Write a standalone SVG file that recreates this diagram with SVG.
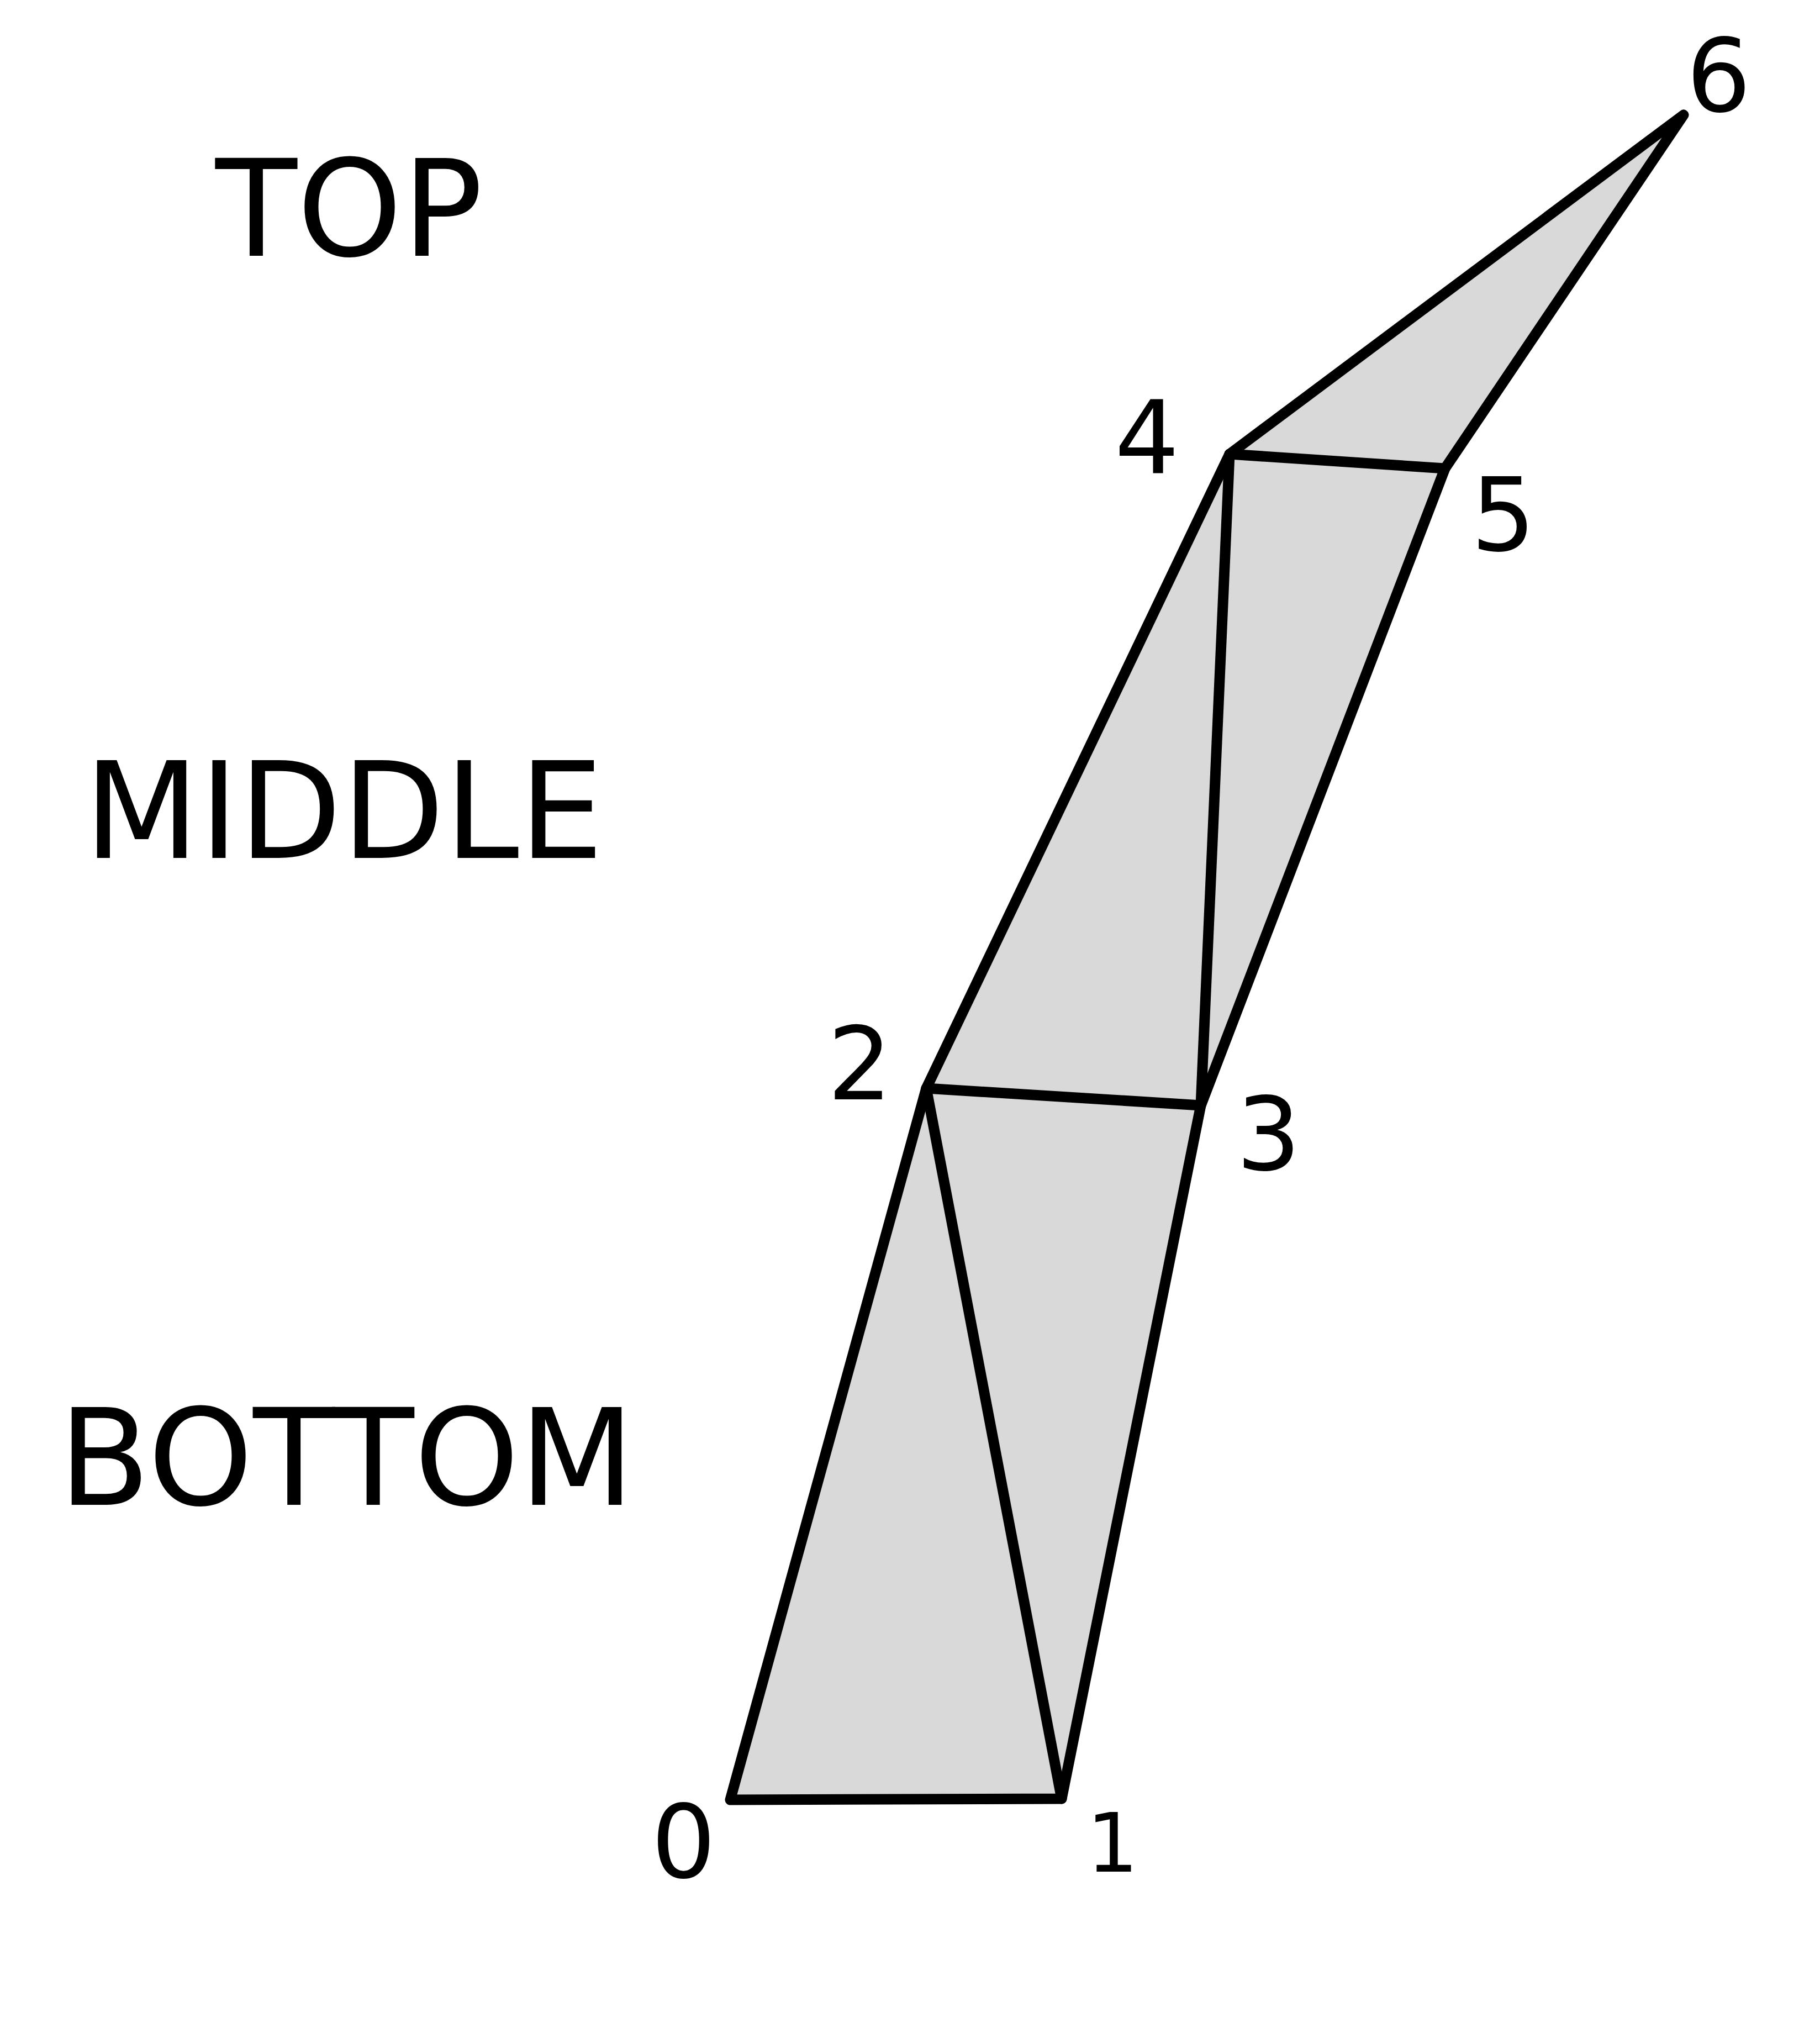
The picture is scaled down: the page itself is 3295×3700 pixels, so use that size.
<svg xmlns="http://www.w3.org/2000/svg" width="3295" height="3700" viewBox="0 0 3295 3700">
<style>
.edge{stroke:#000;stroke-width:19;stroke-linecap:round;stroke-linejoin:round;fill:none}
.num{font-family:"DejaVu Sans","Noto Sans",sans-serif;font-size:184px;fill:#000}
.band{font-family:"DejaVu Sans","Noto Sans",sans-serif;font-size:242px;fill:#000}
</style>
<rect x="0" y="0" width="3295" height="3700" fill="#fff"/>
<g id="mesh">
<polygon id="strip" points="1322,3258 1922,3256 2174,2001 2616,848 3048,208 2226,822 1677,1970" fill="#d9d9d9" stroke="none"/>
</g>
<g id="connectors">
<polygon class="edge" points="1322,3258 1922,3256 2174,2001 2616,848 3048,208 2226,822 1677,1970"/>
<line class="edge" x1="1677" y1="1970" x2="1922" y2="3256"/>
<line class="edge" x1="1677" y1="1970" x2="2174" y2="2001"/>
<line class="edge" x1="2226" y1="822" x2="2174" y2="2001"/>
<line class="edge" x1="2226" y1="822" x2="2616" y2="848"/>
</g>
<g id="vertex-labels">
<text id="v0" class="num" x="1179" y="3398">0</text>
<text id="v1" class="num" x="1967" y="3388" style="font-size:148px">1</text>
<text id="v2" class="num" x="1498" y="1990">2</text>
<text id="v3" class="num" x="2238" y="2117">3</text>
<text id="v4" class="num" x="2018" y="857">4</text>
<text id="v5" class="num" x="2663" y="996">5</text>
<text id="v6" class="num" x="3053" y="201">6</text>
</g>
<g id="band-labels">
<text id="top" class="band" x="390" y="463">TOP</text>
<text id="middle" class="band" x="152" y="1553">MIDDLE</text>
<text id="bottom" class="band" x="106" y="2724">BOTTOM</text>
</g>
</svg>
